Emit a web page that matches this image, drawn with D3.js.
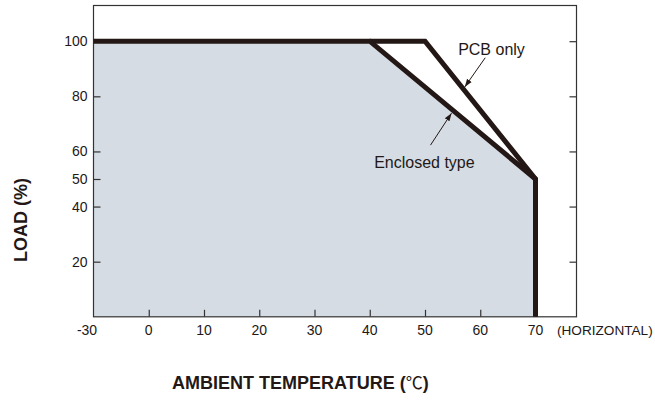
<!DOCTYPE html>
<html><head><meta charset="utf-8">
<script src="https://cdn.jsdelivr.net/npm/d3@7"></script>
<style>
html,body{margin:0;padding:0;background:#fff;}
svg{display:block;}
text{font-family:"Liberation Sans",Arial,sans-serif;fill:#231815;}
</style></head>
<body>
<svg id="c" width="655" height="402"></svg>
<script>
// ---- data ----
const xTicks = [-30, 0, 10, 20, 30, 40, 50, 60, 70];
const yTicksLeft = [20, 40, 50, 60, 80, 100];
const yTicksRight = [20, 40, 60, 80, 100];
const enclosedTemp = [-30, 40, 70, 70];
const enclosedLoad = [100, 100, 50, 0];
const pcbTemp = [40, 50, 70];
const pcbLoad = [100, 100, 50];
const labels = [
  {text: "PCB only", t: 56.0, l: 95.0, at: 60.9, al: 94.0, bt: 57.2, bl: 83.4},
  {text: "Enclosed type", t: 40.8, l: 53.9, at: 51.0, al: 62.3, bt: 54.8, bl: 73.9}
];
const xTitle = "AMBIENT TEMPERATURE (";
const xTitleUnit = "\u2103";
const yTitle = "LOAD (%)";
const xNote = "(HORIZONTAL)";

// ---- layout ----
const pL = 93.5, pR = 576.5, pT = 5.5, pB = 316.8;
const step = 55.25;
const svg = d3.select("#c");
const x = d3.scaleLinear().domain([-30, 0, 70]).range([pL, pL + step, pL + step * 8]);
const y = d3.scaleLinear().domain([0, 100]).range([pB, 41.2]);
const col = "#231815";

// fill area under enclosed curve
const pts = enclosedTemp.map((t, i) => [t, enclosedLoad[i]]);
const area = d3.area().x(d => x(d[0])).y0(y(0)).y1(d => y(d[1]));
svg.append("path").datum(pts).attr("d", area).attr("fill", "#d5dce4");

// frame
svg.append("rect").attr("x", pL).attr("y", pT).attr("width", pR - pL).attr("height", pB - pT)
  .attr("fill", "none").attr("stroke", "#333").attr("stroke-width", 1.2);

// axes ticks (inward)
const gL = svg.append("g").attr("transform", `translate(${pL},0)`)
  .call(d3.axisRight(y).tickValues(yTicksLeft).tickSize(7).tickFormat(""));
const gR = svg.append("g").attr("transform", `translate(${pR},0)`)
  .call(d3.axisLeft(y).tickValues(yTicksRight).tickSize(7).tickFormat(""));
const gB = svg.append("g").attr("transform", `translate(0,${pB})`)
  .call(d3.axisTop(x).tickValues(xTicks.slice(1)).tickSize(7).tickFormat(""));
[gL, gR, gB].forEach(g => { g.select(".domain").remove(); g.selectAll("line").attr("stroke", "#333").attr("stroke-width", 1.2); });

// tick labels
svg.append("g").selectAll("text").data(yTicksLeft).join("text")
  .attr("x", pL - 6).attr("y", d => y(d)).attr("dy", "0.36em")
  .attr("text-anchor", "end").attr("font-size", 14).text(d => d);
svg.append("g").selectAll("text").data(xTicks).join("text")
  .attr("x", (d, i) => x(d) - (i === 0 ? 6.5 : 0)).attr("y", 335)
  .attr("text-anchor", "middle").attr("font-size", 14).text(d => d);
svg.append("text").attr("x", 557).attr("y", 335).attr("font-size", 13.6).text(xNote);

// lines
const line = d3.line().x(d => x(d[0])).y(d => y(d[1]));
svg.append("path").datum(pcbTemp.map((t, i) => [t, pcbLoad[i]])).attr("d", line)
  .attr("fill", "none").attr("stroke", col).attr("stroke-width", 5).attr("stroke-linejoin", "miter");
svg.append("path").datum(pts).attr("d", line)
  .attr("fill", "none").attr("stroke", col).attr("stroke-width", 5).attr("stroke-linejoin", "miter");

// annotations
svg.append("defs").append("marker").attr("id", "ah").attr("viewBox", "0 0 10 10")
  .attr("refX", 10).attr("refY", 5).attr("markerWidth", 8).attr("markerHeight", 8)
  .attr("markerUnits", "userSpaceOnUse").attr("orient", "auto")
  .append("path").attr("d", "M0,1.5 L10,5 L0,8.5 Z").attr("fill", col);
labels.forEach(a => {
  svg.append("line").attr("x1", x(a.at)).attr("y1", y(a.al)).attr("x2", x(a.bt)).attr("y2", y(a.bl))
    .attr("stroke", col).attr("stroke-width", 1).attr("marker-end", "url(#ah)");
  svg.append("text").attr("x", x(a.t)).attr("y", y(a.l)).attr("font-size", 16).text(a.text);
});

// titles
const tt = svg.append("text").attr("x", 172).attr("y", 388.5).attr("font-size", 18).attr("font-weight", "bold");
tt.append("tspan").text(xTitle);
tt.append("tspan").attr("font-weight", "normal").attr("font-size", 17)
  .style("font-family", "'Noto Sans CJK JP','DejaVu Sans',sans-serif").text(xTitleUnit);
tt.append("tspan").text(")");
svg.append("text").attr("transform", "translate(26.5,220) rotate(-90)").attr("text-anchor", "middle")
  .attr("font-size", 18).attr("font-weight", "bold").text(yTitle);
</script>
</body></html>
